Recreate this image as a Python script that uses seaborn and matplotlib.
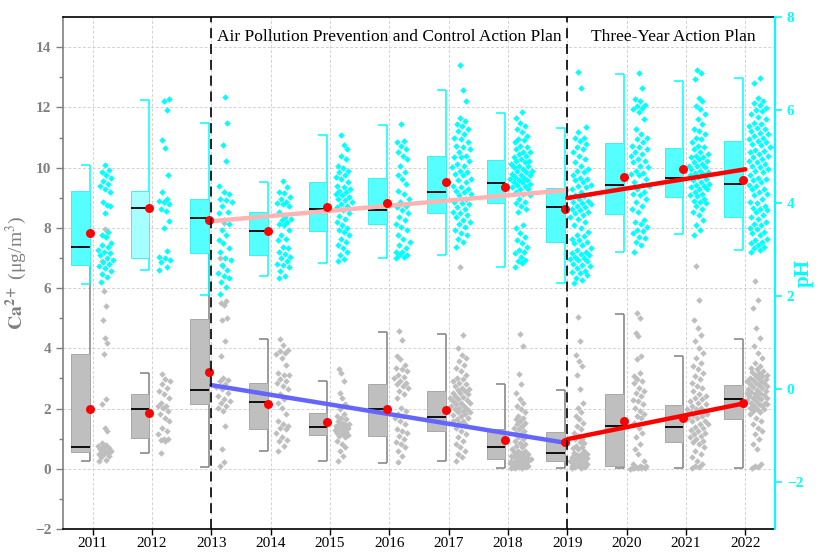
import numpy as np
import pandas as pd
import seaborn as sns
import matplotlib.pyplot as plt

years = [2011, 2012, 2013, 2014, 2015, 2016, 2017, 2018, 2019, 2020, 2021, 2022]

# box statistics (pH on right axis, Ca2+ on left axis)
ph_q1 = [2.68, 2.83, 2.93, 2.88, 3.40, 3.55, 3.78, 4.01, 3.16, 3.76, 4.14, 3.71]
ph_med = [3.07, 3.89, 3.68, 3.41, 3.88, 3.86, 4.25, 4.43, 3.91, 4.39, 4.54, 4.42]
ph_q3 = [4.26, 4.26, 4.09, 3.82, 4.45, 4.54, 5.01, 4.93, 4.32, 5.29, 5.19, 5.33]
ph_lo = [2.26, 2.57, 2.02, 2.43, 2.71, 2.82, 2.89, 2.63, 2.28, 2.95, 3.33, 2.99]
ph_hi = [4.82, 6.22, 5.73, 4.46, 5.46, 5.68, 6.44, 5.93, 5.61, 6.78, 6.62, 6.68]
ph_mean = [3.37, 3.89, 3.64, 3.41, 3.91, 4.00, 4.45, 4.35, 3.87, 4.57, 4.74, 4.50]

ca_q1 = [0.55, 1.01, 2.16, 1.32, 1.12, 1.10, 1.25, 0.31, 0.27, 0.10, 0.88, 1.65]
ca_med = [0.73, 1.98, 2.61, 2.22, 1.40, 2.00, 1.73, 0.74, 0.52, 1.41, 1.39, 2.32]
ca_q3 = [3.82, 2.47, 4.98, 2.84, 1.85, 2.83, 2.58, 1.33, 1.23, 2.47, 2.11, 2.79]
ca_lo = [0.27, 0.52, 0.07, 0.59, 0.27, 0.20, 0.25, 0.04, 0.03, 0.03, 0.03, 0.03]
ca_hi = [7.98, 3.17, 8.15, 4.30, 2.92, 4.55, 4.47, 2.80, 2.63, 5.14, 3.74, 4.31]
ca_mean = [2.00, 1.85, 3.22, 2.14, 1.56, 2.00, 1.96, 0.94, 0.89, 1.58, 1.67, 2.19]

# individual samples
ph_2011 = [4.82, 4.72, 4.67, 4.6, 4.55, 4.47, 4.42, 4.36, 4.3, 4.25, 4.02, 3.97, 3.93, 3.8, 3.38, 3.32, 3.28,
           3.15, 3.1, 3.05, 3.0, 2.96, 2.92, 2.88, 2.83, 2.78, 2.74, 2.7, 2.66, 2.6, 2.55, 2.48, 2.42, 2.3]
ph_2012 = [6.24, 6.19, 6.0, 5.36, 5.19, 4.6, 4.25, 4.1, 4.05, 4.03, 3.98, 3.87, 3.83, 3.61, 3.46, 2.97, 2.85,
           2.82, 2.78, 2.73, 2.62, 2.57]
ph_2013 = [6.29, 5.73, 5.25, 4.91, 4.36, 4.24, 4.2, 4.1, 4.06, 4.03, 3.95, 3.81, 3.78, 3.64, 3.56, 3.42, 3.31,
           3.21, 3.14, 3.03, 2.96, 2.82, 2.78, 2.68, 2.57, 2.5, 2.43, 2.39, 2.3, 2.21, 2.04]
ph_2014 = [4.47, 4.35, 4.24, 4.22, 4.13, 4.1, 4.03, 4.0, 3.98, 3.95, 3.81, 3.71, 3.67, 3.64, 3.6, 3.56, 3.53,
           3.42, 3.31, 3.24, 3.2, 3.07, 3.03, 2.96, 2.9, 2.85, 2.82, 2.75, 2.7, 2.68, 2.64, 2.55, 2.43, 2.4]
ph_2015 = [5.47, 5.25, 5.16, 5.02, 4.95, 4.81, 4.76, 4.7, 4.67, 4.6, 4.56, 4.52, 4.45, 4.38, 4.35, 4.31, 4.27,
           4.24, 4.2, 4.17, 4.13, 4.1, 4.06, 4.03, 3.98, 3.95, 3.92, 3.85, 3.78, 3.72, 3.67, 3.6, 3.53, 3.46,
           3.42, 3.39, 3.31, 3.24, 3.17, 3.1, 3.03, 2.96, 2.89, 2.8, 2.75]
ph_2016 = [5.7, 5.34, 5.31, 5.24, 5.16, 5.09, 5.02, 4.95, 4.81, 4.67, 4.6, 4.52, 4.42, 4.27, 4.2, 4.1, 4.03,
           3.95, 3.92, 3.85, 3.78, 3.71, 3.64, 3.56, 3.49, 3.42, 3.31, 3.24, 3.17, 3.1, 3.03, 2.96, 2.95, 2.89,
           2.88, 2.85, 2.82]
ph_2017 = [6.98, 6.44, 6.19, 5.84, 5.77, 5.7, 5.65, 5.59, 5.55, 5.48, 5.41, 5.38, 5.31, 5.24, 5.16, 5.09, 5.02,
           4.99, 4.91, 4.84, 4.77, 4.7, 4.67, 4.63, 4.6, 4.52, 4.45, 4.38, 4.35, 4.27, 4.24, 4.2, 4.17, 4.1,
           4.03, 3.99, 3.92, 3.88, 3.81, 3.74, 3.71, 3.64, 3.56, 3.49, 3.42, 3.35, 3.31, 3.24, 3.17, 3.07,
           4.5, 4.3, 4.0, 3.8, 3.6, 4.8, 5.0, 5.2]
ph_2018 = [5.95, 5.84, 5.73, 5.66, 5.59, 5.52, 5.45, 5.38, 5.31, 5.24, 5.16, 5.09, 5.06, 5.02, 4.95, 4.91, 4.88,
           4.84, 4.81, 4.77, 4.74, 4.7, 4.67, 4.63, 4.6, 4.56, 4.52, 4.49, 4.45, 4.42, 4.38, 4.35, 4.31, 4.24,
           4.17, 4.1, 4.03, 3.95, 3.88, 3.81, 3.53, 3.46, 3.35, 3.28, 3.21, 3.14, 3.07, 3.0, 2.92, 2.85, 2.78,
           2.71, 2.64, 5.2, 5.1, 5.0, 4.9, 4.8, 4.7, 4.6, 4.5, 4.4, 4.3, 4.2, 4.0, 5.35, 4.55, 4.45, 2.95, 2.75]
ph_2019 = [6.82, 6.48, 5.63, 5.52, 5.41, 5.34, 5.27, 5.16, 5.02, 4.95, 4.88, 4.81, 4.74, 4.67, 4.6, 4.52, 4.49,
           4.45, 4.38, 4.35, 4.31, 4.24, 4.2, 4.17, 4.13, 4.1, 4.03, 3.99, 3.95, 3.92, 3.88, 3.81, 3.78, 3.74,
           3.67, 3.6, 3.53, 3.46, 3.39, 3.31, 3.24, 3.21, 3.17, 3.1, 3.03, 2.96, 2.92, 2.89, 2.85, 2.82, 2.78,
           2.75, 2.68, 2.6, 2.53, 2.46, 2.28, 4.15, 4.05, 4.0, 3.85, 3.7, 3.0, 2.9, 2.8, 2.7, 2.65, 2.55, 2.5,
           2.4, 2.35, 3.15, 3.3, 5.4, 5.2, 5.1, 4.7, 4.55, 4.4]
ph_2020 = [6.8, 6.48, 6.23, 6.12, 6.09, 6.02, 5.95, 5.8, 5.59, 5.48, 5.41, 5.38, 5.31, 5.24, 5.2, 5.16, 5.09,
           5.02, 4.95, 4.88, 4.81, 4.77, 4.7, 4.63, 4.6, 4.52, 4.45, 4.38, 4.31, 4.24, 4.17, 4.1, 4.03, 3.95,
           3.88, 3.81, 3.64, 3.56, 3.49, 3.42, 3.35, 3.28, 3.17, 3.1, 2.96, 5.05, 4.9, 4.65, 4.4, 4.2, 3.6, 3.4,
           3.25, 6.05, 6.2]
ph_2021 = [6.87, 6.8, 6.66, 6.27, 6.19, 6.09, 6.02, 5.91, 5.8, 5.7, 5.59, 5.48, 5.38, 5.31, 5.24, 5.16, 5.09,
           5.06, 5.02, 4.99, 4.95, 4.88, 4.84, 4.81, 4.77, 4.74, 4.67, 4.63, 4.6, 4.56, 4.52, 4.45, 4.42, 4.38,
           4.35, 4.31, 4.24, 4.2, 4.17, 4.1, 4.03, 3.95, 3.88, 3.81, 3.74, 3.64, 3.53, 3.42, 3.31, 5.0, 4.9, 4.7,
           4.5, 4.4, 4.3, 4.15, 4.05, 4.0, 4.8, 4.65, 5.2, 5.4, 5.55]
ph_2022 = [6.69, 6.59, 6.27, 6.19, 6.12, 6.05, 5.98, 5.91, 5.8, 5.73, 5.66, 5.59, 5.55, 5.48, 5.41, 5.34, 5.31,
           5.27, 5.2, 5.13, 5.06, 5.02, 4.95, 4.88, 4.81, 4.74, 4.67, 4.6, 4.52, 4.45, 4.38, 4.31, 4.24, 4.17,
           4.1, 4.03, 3.95, 3.88, 3.81, 3.74, 3.67, 3.6, 3.53, 3.46, 3.39, 3.31, 3.24, 3.17, 3.1, 3.03, 2.96,
           6.15, 6.0, 5.85, 5.7, 5.62, 5.5, 5.45, 5.38, 5.25, 5.1, 5.0, 4.9, 4.78, 4.7, 4.55, 4.4, 4.3, 4.2,
           4.0, 3.9, 3.7, 3.55, 3.35, 3.2, 3.05, 3.0, 5.15, 4.85, 4.5, 3.85, 3.45, 3.15]

ca_2011 = [7.97, 6.9, 5.89, 5.39, 4.95, 4.34, 4.18, 3.82, 2.31, 2.16, 1.37, 1.26, 0.87, 0.8, 0.76, 0.72, 0.7,
           0.65, 0.62, 0.6, 0.55, 0.54, 0.5, 0.49, 0.43, 0.38, 0.3, 0.27]
ca_2012 = [3.15, 2.97, 2.9, 2.8, 2.69, 2.58, 2.47, 2.36, 2.2, 2.1, 2.09, 2.03, 1.92, 1.81, 1.7, 1.59, 1.37,
           1.26, 1.15, 1.0, 0.98, 0.95, 0.93, 0.54]
ca_2013 = [8.15, 6.99, 6.72, 5.57, 5.5, 5.45, 5.0, 4.95, 4.23, 3.74, 3.02, 2.95, 2.91, 2.8, 2.7, 2.64, 2.53,
           2.42, 2.31, 2.25, 2.2, 2.1, 2.03, 1.92, 1.42, 0.65, 0.21, 0.1]
ca_2014 = [4.32, 4.12, 3.96, 3.9, 3.85, 3.8, 3.68, 3.46, 3.19, 3.13, 3.1, 2.97, 2.9, 2.86, 2.75, 2.64, 2.47,
           2.31, 2.2, 2.03, 1.81, 1.59, 1.5, 1.42, 1.35, 1.31, 1.2, 1.04, 0.95, 0.93, 0.76, 0.6]
ca_2015 = [3.3, 3.19, 2.91, 2.53, 2.36, 2.14, 1.98, 1.81, 1.75, 1.7, 1.65, 1.59, 1.53, 1.5, 1.48, 1.45, 1.42,
           1.4, 1.37, 1.33, 1.31, 1.28, 1.26, 1.22, 1.2, 1.15, 1.12, 1.09, 1.04, 0.93, 0.82, 0.71, 0.6, 0.43, 0.27]
ca_2016 = [4.59, 4.29, 3.74, 3.63, 3.46, 3.35, 3.24, 3.13, 3.02, 2.91, 2.86, 2.8, 2.69, 2.58, 2.47, 2.36, 2.03,
           1.92, 1.81, 1.7, 1.59, 1.48, 1.31, 1.2, 1.09, 0.98, 0.82, 0.71, 0.6, 0.43, 0.21, 3.3, 3.05, 2.75,
           1.75, 1.25, 0.9]
ca_2017 = [6.7, 4.45, 4.01, 3.79, 3.68, 3.57, 3.46, 3.35, 3.24, 3.13, 3.02, 2.97, 2.91, 2.86, 2.8, 2.75, 2.69,
           2.64, 2.58, 2.53, 2.47, 2.42, 2.36, 2.31, 2.25, 2.2, 2.14, 2.09, 2.03, 1.98, 1.92, 1.87, 1.81, 1.75,
           1.7, 1.64, 1.59, 1.53, 1.48, 1.37, 1.26, 1.15, 1.04, 0.93, 0.82, 0.71, 0.6, 0.49, 0.38, 0.27, 2.6,
           2.4, 2.2, 2.0, 1.8, 1.6, 2.5, 2.3, 2.1, 1.9]
ca_2018 = [4.48, 4.07, 3.15, 2.8, 2.53, 2.31, 2.2, 2.09, 1.98, 1.87, 1.75, 1.7, 1.64, 1.59, 1.53, 1.48, 1.42,
           1.37, 1.31, 1.26, 1.2, 1.15, 1.09, 1.04, 0.98, 0.93, 0.87, 0.82, 0.76, 0.71, 0.65, 0.6, 0.54, 0.49,
           0.43, 0.38, 0.32, 0.27, 0.21, 0.16, 0.1, 0.05, 0.6, 0.55, 0.5, 0.45, 0.4, 0.35, 0.3, 0.25, 0.2, 0.15,
           0.12, 0.08, 0.05, 0.03, 0.4, 0.3, 0.2, 0.1, 0.05, 0.02, 0.02, 0.15, 0.25]
ca_2019 = [5.03, 4.23, 3.79, 3.57, 3.41, 3.13, 2.64, 2.2, 2.03, 1.87, 1.75, 1.64, 1.53, 1.42, 1.31, 1.2, 1.09,
           0.98, 0.87, 0.76, 0.71, 0.65, 0.6, 0.54, 0.49, 0.43, 0.38, 0.32, 0.27, 0.21, 0.16, 0.1, 0.05, 0.5,
           0.4, 0.3, 0.2, 0.15, 0.1, 0.05, 0.03, 0.02, 0.08, 0.12, 0.25, 0.35, 0.45, 0.7, 0.9, 1.0]
ca_2020 = [5.17, 5.0, 4.51, 4.4, 3.74, 3.63, 3.19, 3.08, 2.97, 2.86, 2.69, 2.58, 2.42, 2.25, 2.14, 2.03, 1.92,
           1.81, 1.7, 1.53, 1.37, 1.2, 1.04, 0.82, 0.65, 0.49, 0.27, 0.16, 0.1, 0.05, 0.02, 0.02, 0.03, 0.04,
           0.06, 0.08, 0.0, 0.01, 2.9, 2.5, 2.3, 1.75]
ca_2021 = [6.72, 5.61, 4.95, 4.67, 4.45, 4.23, 4.01, 3.85, 3.68, 3.52, 3.41, 3.3, 3.19, 3.08, 2.97, 2.86, 2.75,
           2.69, 2.58, 2.47, 2.42, 2.36, 2.31, 2.25, 2.2, 2.14, 2.09, 2.03, 1.98, 1.92, 1.87, 1.81, 1.75, 1.7,
           1.59, 1.48, 1.37, 1.26, 1.15, 1.04, 0.93, 0.82, 0.71, 0.6, 0.49, 0.38, 0.27, 0.16, 0.05, 2.0, 1.9,
           1.8, 1.7, 1.6, 1.5, 1.4, 1.3, 1.2, 1.1, 1.0, 0.9, 0.1, 0.03]
ca_2022 = [6.22, 5.61, 5.34, 4.67, 4.34, 4.07, 3.85, 3.68, 3.52, 3.41, 3.3, 3.24, 3.19, 3.13, 3.08, 3.02, 2.97,
           2.91, 2.86, 2.8, 2.75, 2.69, 2.64, 2.58, 2.53, 2.47, 2.42, 2.36, 2.31, 2.25, 2.2, 2.14, 2.09, 2.03,
           1.98, 1.92, 1.87, 1.81, 1.7, 1.59, 1.48, 1.37, 1.26, 1.15, 0.98, 0.82, 0.65, 0.16, 0.05, 3.2, 3.1,
           3.0, 2.95, 2.9, 2.85, 2.7, 2.6, 2.5, 2.4, 2.3, 2.2, 2.1, 2.0, 2.78, 2.55, 2.45, 2.35, 2.15, 3.35,
           0.1, 0.03]

ph_samples = [ph_2011, ph_2012, ph_2013, ph_2014, ph_2015, ph_2016,
              ph_2017, ph_2018, ph_2019, ph_2020, ph_2021, ph_2022]
ca_samples = [ca_2011, ca_2012, ca_2013, ca_2014, ca_2015, ca_2016,
              ca_2017, ca_2018, ca_2019, ca_2020, ca_2021, ca_2022]

CYAN = '#00FFFF'
GRAY = '#808080'
BOX_L, BOX_R = -0.36, -0.045   # half box left of the year tick
CAP = 0.15


def spread(vals, hw, bw):
    # deterministic, density-scaled horizontal spread for the point columns
    v = np.asarray(vals, float)
    dens = np.array([np.sum(np.abs(v - x) < bw) for x in v], float)
    scale = 0.3 + 0.7 * dens / dens.max()
    phase = np.empty(len(v))
    phase[np.argsort(v)] = (np.arange(len(v)) * 0.618034) % 1.0
    return (phase - 0.5) * 2 * hw * scale


def points_frame(samples, offset):
    rows = []
    for yr, vals in zip(years, samples):
        hw = 0.08 + 0.12 * min(1.0, len(vals) / 70)
        dx = spread(vals, hw, 0.35)
        for v, d in zip(vals, dx):
            rows.append((yr + offset + d, v))
    return pd.DataFrame(rows, columns=['x', 'value'])


def half_boxes(axis, q1, med, q3, lo, hi, face, edge, wcolor):
    x = np.array(years, float)
    q1, q3 = np.array(q1), np.array(q3)
    axis.vlines(x + BOX_R, lo, hi, color=wcolor, lw=1.1, zorder=2)
    axis.hlines(lo, x + BOX_R - CAP, x + BOX_R, color=wcolor, lw=1.1, zorder=2)
    axis.hlines(hi, x + BOX_R - CAP, x + BOX_R, color=wcolor, lw=1.1, zorder=2)
    axis.bar(x + BOX_L, q3 - q1, bottom=q1, width=BOX_R - BOX_L, align='edge',
             color=face, edgecolor=edge, linewidth=0.7, zorder=2.5)
    axis.hlines(med, x + BOX_L, x + BOX_R, color='black', lw=1.3, zorder=3)


sns.set_style('ticks')
plt.rcParams['font.family'] = ['Liberation Serif', 'DejaVu Serif']
plt.rcParams['mathtext.fontset'] = 'stix'

fig = plt.figure(figsize=(8.18, 5.55), dpi=100)
ax = fig.add_axes([0.077, 0.0468, 0.8704, 0.9225])
ax2 = ax.twinx()

# Ca2+ on the left axis
half_boxes(ax, ca_q1, ca_med, ca_q3, ca_lo, ca_hi, '#BFBFBF', '#A8A8A8', GRAY)
ca_df = points_frame(ca_samples, 0.2)
sns.scatterplot(data=ca_df, x='x', y='value', marker='D', color='#BEBEBE', s=11,
                linewidth=0, ax=ax, zorder=3)
sns.regplot(x=years[2:9], y=ca_mean[2:9], scatter=False, ci=None, ax=ax,
            color='#6464FF', line_kws={'lw': 3.2, 'zorder': 4})
sns.regplot(x=years[8:], y=ca_mean[8:], scatter=False, ci=None, ax=ax,
            color='#FF0000', line_kws={'lw': 3.2, 'zorder': 4})
sns.scatterplot(x=np.array(years) + BOX_R, y=ca_mean, color='#FF0000', s=42,
                linewidth=0, ax=ax, zorder=5)

# pH on the right axis
ph_faces = ['#55FFFF'] * len(years)
ph_faces[1] = '#A6FFFF'
half_boxes(ax2, ph_q1, ph_med, ph_q3, ph_lo, ph_hi, ph_faces, '#3FF0F0', CYAN)
ph_df = points_frame(ph_samples, 0.22)
sns.scatterplot(data=ph_df, x='x', y='value', marker='D', color=CYAN, s=11,
                linewidth=0, ax=ax2, zorder=3)
sns.regplot(x=years[2:9], y=ph_mean[2:9], scatter=False, ci=None, ax=ax2,
            color='#FFB4B4', line_kws={'lw': 3.2, 'zorder': 4})
sns.regplot(x=years[8:], y=ph_mean[8:], scatter=False, ci=None, ax=ax2,
            color='#FF0000', line_kws={'lw': 3.2, 'zorder': 4})
sns.scatterplot(x=np.array(years) + BOX_R, y=ph_mean, color='#FF0000', s=42,
                linewidth=0, ax=ax2, zorder=5)

# policy periods
for yr in (2013, 2019):
    ax2.axvline(yr, color='black', ls=(0, (6, 3.5)), lw=1.2, zorder=6)
ax.text(2013.1, 14.35, 'Air Pollution Prevention and Control Action Plan',
        ha='left', va='center', fontsize=12.5, color='black')
ax.text(2020.78, 14.35, 'Three-Year Action Plan', ha='center', va='center',
        fontsize=12.5, color='black')

# axes
ax.set_xlim(2010.5, 2022.5)
ax.set_xticks(years)
ax.set_xticklabels([str(y) for y in years], fontsize=11, color='black')
ax.set_ylim(-2, 15)
ax.set_yticks(range(-2, 15, 2))
ax.set_yticks(range(-1, 15, 2), minor=True)
ax2.set_ylim(-3, 8)
ax2.set_yticks([-2, 0, 2, 4, 6, 8])
ax.set_xlabel('')

ax.grid(True, which='major', ls=(0, (3, 2)), color='#D2D2D2', lw=0.7)
ax.set_axisbelow(True)
ax2.grid(False)

ax.tick_params(axis='x', direction='out', length=4, width=1, colors='black', pad=2)
ax.tick_params(axis='y', which='major', direction='out', length=5, width=1,
               colors=GRAY, labelsize=11)
ax.tick_params(axis='y', which='minor', direction='out', length=3, width=1, colors=GRAY)
ax2.tick_params(axis='y', direction='out', length=5, width=1.2, colors=CYAN, labelsize=11)
plt.setp(ax.get_yticklabels(), fontweight='bold')
plt.setp(ax2.get_yticklabels(), fontweight='bold')

ax.spines['left'].set_color(GRAY)
ax.spines['left'].set_linewidth(1.2)
ax.spines['top'].set_color('black')
ax.spines['bottom'].set_color('black')
ax.spines['top'].set_linewidth(1.2)
ax.spines['bottom'].set_linewidth(1.2)
ax.spines['right'].set_visible(False)
for side in ('left', 'top', 'bottom'):
    ax2.spines[side].set_visible(False)
ax2.spines['right'].set_color(CYAN)
ax2.spines['right'].set_linewidth(1.5)

ax.set_ylabel(r'$\mathbf{Ca^{2+}}$ (μg/m$^{3}$)', color=GRAY, fontsize=14, labelpad=4)
ax2.set_ylabel('pH', color=CYAN, fontsize=15, fontweight='bold', rotation=90,
               va='center', ha='center')
ax2.yaxis.set_label_coords(1.04, 0.5)

fig.savefig('out.png', dpi=100)
